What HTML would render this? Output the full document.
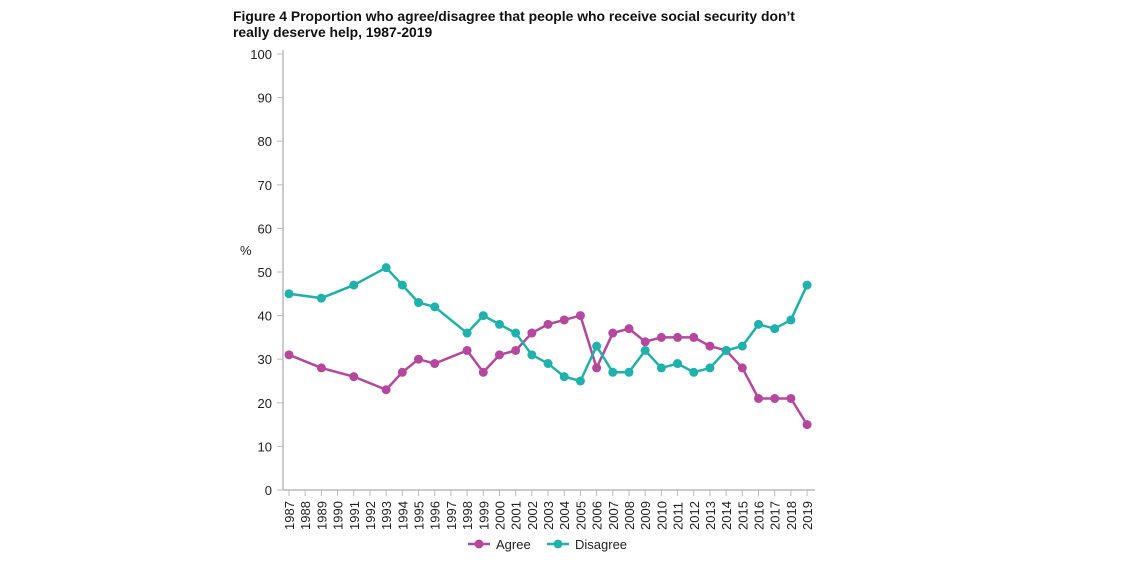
<!DOCTYPE html>
<html><head><meta charset="utf-8"><style>
body{margin:0;background:#fff;width:1122px;height:564px;overflow:hidden;font-family:"Liberation Sans",sans-serif}
#title{position:absolute;left:233px;top:8px;font-weight:bold;font-size:13.9px;line-height:16px;color:#111;width:620px;white-space:nowrap}
svg{position:absolute;left:0;top:0}
</style></head><body>
<div id="title">Figure 4 Proportion who agree/disagree that people who receive social security don’t<br>really deserve help, 1987-2019</div>
<svg id="chart" width="1122" height="564"></svg>
<script>
const years=[];for(let y=1987;y<=2019;y++)years.push(y);
const dataYears=[1987,1989,1991,1993,1994,1995,1996,1998,1999,2000,2001,2002,2003,2004,2005,2006,2007,2008,2009,2010,2011,2012,2013,2014,2015,2016,2017,2018,2019];
const agree=[31,28,26,23,27,30,29,32,27,31,32,36,38,39,40,28,36,37,34,35,35,35,33,32,28,21,21,21,15];
const disagree=[45,44,47,51,47,43,42,36,40,38,36,31,29,26,25,33,27,27,32,28,29,27,28,32,33,38,37,39,47];
const yTicks=[0,10,20,30,40,50,60,70,80,90,100];
const NS="http://www.w3.org/2000/svg",svg=document.getElementById('chart');
const X=y=>289+(y-1987)*16.19, Y=v=>490-v*4.36;
function mk(t,a,p){const e=document.createElementNS(NS,t);for(const k in a)e.setAttribute(k,a[k]);(p||svg).appendChild(e);return e;}
const axY=mk('line',{x1:283,y1:Y(100)-4,x2:283,y2:490,stroke:'#bbb','stroke-width':1.5});


const axX=mk('line',{x1:283,y1:490,x2:815,y2:490,stroke:'#bbb','stroke-width':1.5});


yTicks.forEach(v=>{const t=mk('text',{x:272,y:Y(v)+5,'text-anchor':'end','font-size':13,fill:'#222'});t.textContent=v;


mk('line',{x1:277,y1:Y(v),x2:283,y2:Y(v),stroke:'#bbb'});});
const pct=mk('text',{x:240,y:255,'font-size':13,fill:'#222'});pct.textContent='%';


years.forEach(y=>{mk('line',{x1:X(y),y1:490,x2:X(y),y2:496,stroke:'#bbb'});
const t=mk('text',{transform:`translate(${X(y)+5},530) rotate(-90)`,'font-size':13,fill:'#222'});t.textContent=y;

});
function series(vals,col,name){const g=mk('g',{});


mk('polyline',{points:vals.map((v,i)=>X(dataYears[i])+','+Y(v)).join(' '),fill:'none',stroke:col,'stroke-width':2.5},g);
vals.forEach((v,i)=>{const c=mk('circle',{cx:X(dataYears[i]),cy:Y(v),r:4.5,fill:col},g);

});}
series(agree,'#b5489e','agree');series(disagree,'#1fb2ad','disagree');
function legend(x,col,label,name){const g=mk('g',{});


mk('line',{x1:x,y1:544,x2:x+22,y2:544,stroke:col,'stroke-width':2.5},g);
mk('circle',{cx:x+11,cy:544,r:4.5,fill:col},g);
const t=mk('text',{x:x+28,y:549,'font-size':13,fill:'#222'},g);t.textContent=label;}
legend(468,'#b5489e','Agree','legend-agree');legend(547,'#1fb2ad','Disagree','legend-disagree');
</script>
</body></html>
